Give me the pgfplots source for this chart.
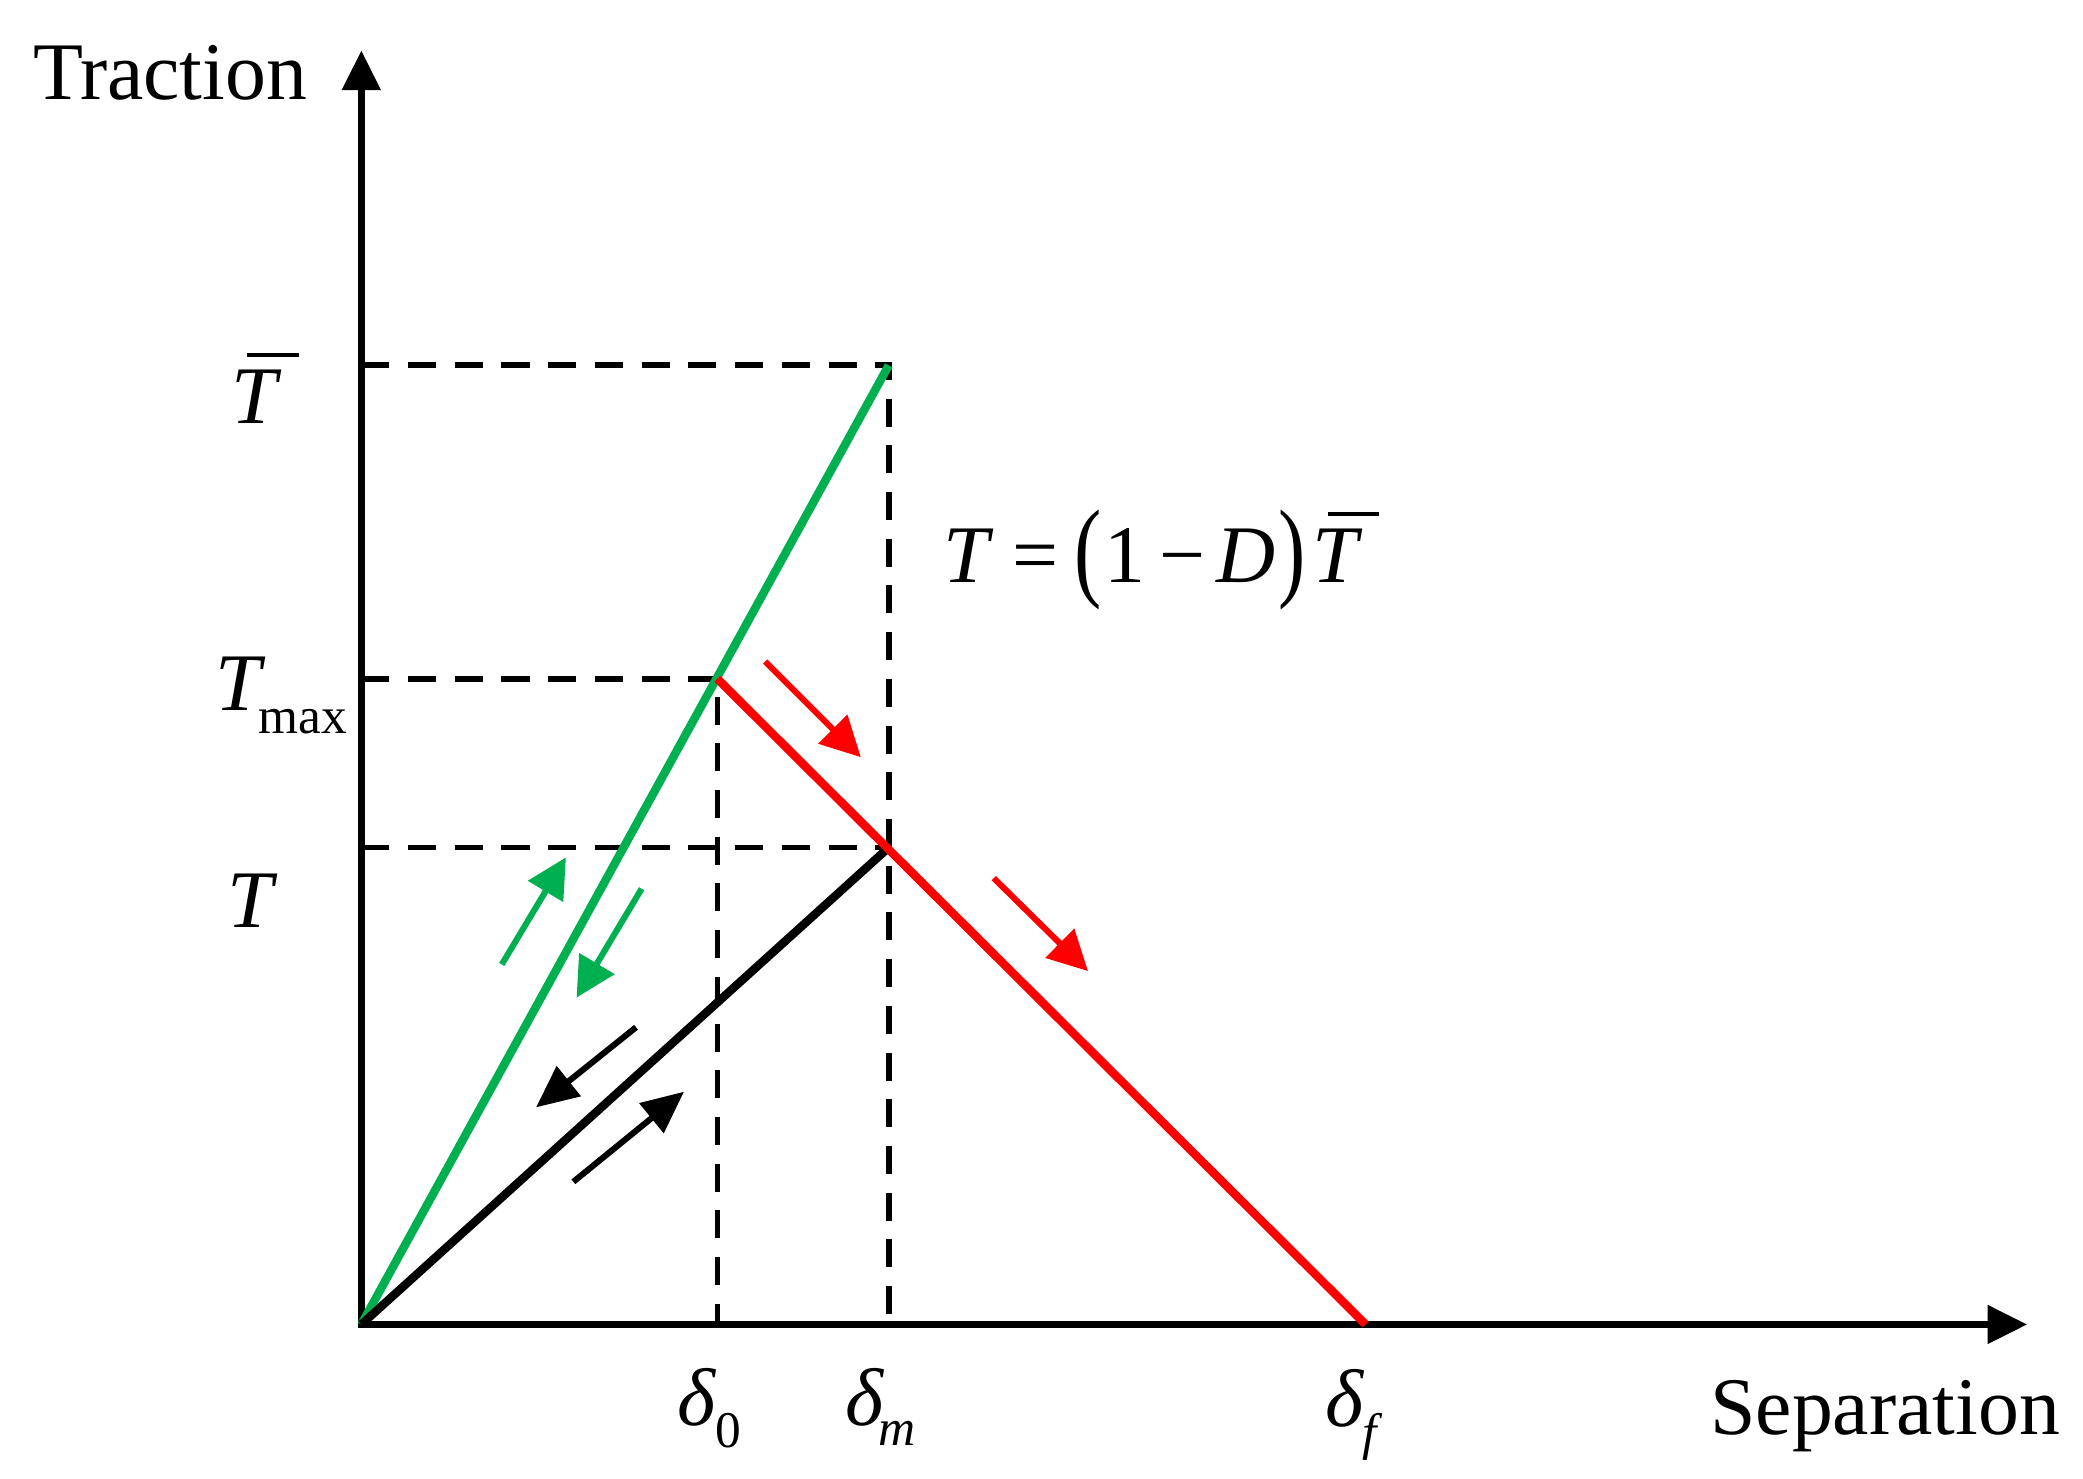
\documentclass[border=0pt]{standalone}
\usepackage{pgfplots}
\pgfplotsset{compat=1.18}
\usepackage{fontspec}
\setmainfont{Liberation Serif}
\usepackage{graphicx}
\usetikzlibrary{arrows.meta}

\definecolor{cgreen}{RGB}{0,176,80}
\definecolor{cred}{RGB}{255,0,0}

% italic T with bar, as in the figure
\newcommand{\Tbar}{\textit{T}\kern-0.43em\rule[0.81em]{0.63em}{0.05em}\kern-0.2em}
\newcommand{\sub}[2][4.9pt]{\raisebox{-#1}{\fontsize{11}{11}\selectfont #2}}
\newcommand{\bigp}[1]{\raisebox{-0.8pt}{\scalebox{1}[1.35]{#1}}}
\tikzset{lbl/.style={inner sep=0pt, outer sep=0pt, font=\fontsize{17.5}{21}\selectfont}}

\begin{document}
\begin{tikzpicture}
  \begin{axis}[
    x=0.01cm, y=0.01cm,
    xmin=-272, xmax=1296,
    ymin=-116, ymax=997,
    hide axis,
    clip=false,
  ]
  % keep the full frame
  \addplot[draw=none] coordinates {(-272,-116) (1296,997)};

  % axes
  \addplot[black, line width=1.5pt,
    {Triangle[length=8.5pt,width=8pt]}-{Triangle[length=8.5pt,width=8pt]}]
    coordinates {(0,959) (0,0) (1254,0)};

  % guide lines
  \addplot[black, line width=1.2pt, dash pattern=on 6pt off 4pt] coordinates {(0,722) (397,722) (397,0)};
  \addplot[black, line width=1.2pt, dash pattern=on 6pt off 4pt] coordinates {(0,486) (268,486) (268,0)};
  \addplot[black, line width=1.2pt, dash pattern=on 6pt off 4pt] coordinates {(0,359) (397,359)};

  % traction-separation paths
  \addplot[cgreen, line width=1.8pt] coordinates {(0,0) (397,722)};
  \addplot[black, line width=1.8pt] coordinates {(0,0) (397,359)};
  \addplot[cred, line width=1.8pt] coordinates {(268,486) (756,0)};

  % loading / unloading arrows
  \addplot[cgreen, line width=1.3pt, -{Triangle[length=8.5pt,width=8.5pt]}] coordinates {(105.7,271) (154,351.6)};
  \addplot[cgreen, line width=1.3pt, -{Triangle[length=8.5pt,width=8.5pt]}] coordinates {(211,328) (162,246)};
  \addplot[black, line width=1.3pt, -{Triangle[length=9pt,width=8pt]}] coordinates {(206.8,223.7) (131.5,163.4)};
  \addplot[black, line width=1.3pt, -{Triangle[length=9pt,width=8pt]}] coordinates {(159.6,107.4) (242.9,175.2)};
  \addplot[cred, line width=1.3pt, -{Triangle[length=8.5pt,width=8.5pt]}] coordinates {(304,499) (376,427)};
  \addplot[cred, line width=1.3pt, -{Triangle[length=8.5pt,width=8.5pt]}] coordinates {(476,336) (547,266)};

  % labels
  \node[lbl, anchor=base] at (axis cs:-144,922) {Traction};
  \node[lbl, anchor=base] at (axis cs:1147,-82.5) {Separation};
  \node[lbl, anchor=base west] at (axis cs:-97.4,678.5) {\Tbar};
  \node[lbl, anchor=base west] at (axis cs:-110,462) {\textit{T}\kern-1.5pt\sub{max}};
  \node[lbl, anchor=base west] at (axis cs:-100.4,299) {\textit{T}};
  \node[lbl, anchor=base west] at (axis cs:238,-75.7) {\textit{δ}\kern-0.3pt\sub{0}};
  \node[lbl, anchor=base west] at (axis cs:364.6,-75.7) {\textit{δ}\kern-1.3pt\sub[4.4pt]{\textit{m}}};
  \node[lbl, anchor=base west] at (axis cs:725.5,-77) {\textit{δ}\kern-0.3pt\sub{\textit{f}}};
  \node[lbl, anchor=base west] at (axis cs:438,558.4)
    {\textit{T}\hspace{4pt}=\hspace{3.5pt}\bigp{(}\hspace{0.5pt}1\hspace{3pt}−\hspace{2.5pt}\textit{D}\hspace{0.5pt}\bigp{)}\hspace{1.5pt}\Tbar};
  \end{axis}
\end{tikzpicture}
\end{document}
